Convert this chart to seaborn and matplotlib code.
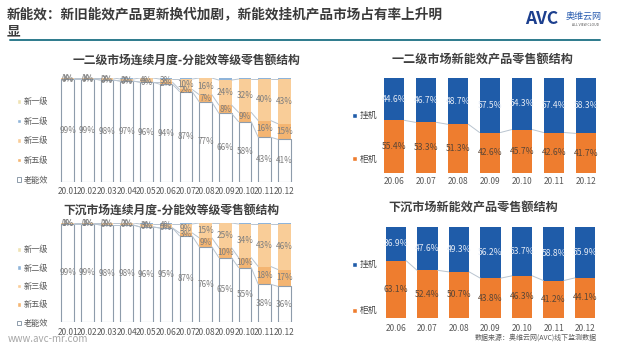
import numpy as np
import pandas as pd
import matplotlib.pyplot as plt
from matplotlib.patches import Patch
import seaborn as sns

# --- data ---
months_12 = ['20.01', '20.02', '20.03', '20.04', '20.05', '20.06',
             '20.07', '20.08', '20.09', '20.10', '20.11', '20.12']
months_7 = ['20.06', '20.07', '20.08', '20.09', '20.10', '20.11', '20.12']

# 一二级市场 (%)
old_t12 = [99, 99, 98, 97, 96, 94, 87, 77, 66, 58, 43, 41]
new5_t12 = [0, 0, 0, 0, 0, 2, 2, 7, 8, 9, 16, 15]
new3_t12 = [1, 1, 2, 2, 4, 3, 10, 16, 24, 32, 40, 43]
new2_t12 = [0, 0, 0, 1, 0, 1, 1, 0, 2, 1, 1, 1]
new1_t12 = [0, 0, 0, 0, 0, 0, 0, 0, 0, 0, 0, 0]

# 下沉市场 (%)
old_low = [99, 99, 98, 98, 96, 95, 87, 76, 65, 55, 38, 36]
new5_low = [0, 0, 0, 0, 0, 0, 3, 9, 10, 10, 18, 17]
new3_low = [1, 1, 2, 2, 3, 4, 9, 15, 25, 34, 43, 46]
new2_low = [0, 0, 0, 0, 1, 1, 1, 0, 0, 1, 1, 1]
new1_low = [0, 0, 0, 0, 0, 0, 0, 0, 0, 0, 0, 0]

# 新能效产品 挂机 / 柜机 (%)
wall_t12 = [44.6, 46.7, 48.7, 57.5, 54.3, 57.4, 58.3]
floor_t12 = [55.4, 53.3, 51.3, 42.6, 45.7, 42.6, 41.7]
wall_low = [36.9, 47.6, 49.3, 56.2, 53.7, 58.8, 55.9]
floor_low = [63.1, 52.4, 50.7, 43.8, 46.3, 41.2, 44.1]

grade_names = ['新一级', '新二级', '新三级', '新五级', '老能效']
type_names = ['挂机', '柜机']

# --- style ---
sns.set_style('white')
plt.rcParams['font.family'] = ['Noto Sans CJK SC', 'DejaVu Sans']

c_new1 = '#EFE3B4'
c_new2 = '#8FB4D9'
c_new3 = '#F9CD98'
c_new5 = '#F4B572'
c_edge = '#8E9CAB'
c_wall = '#1F5CA9'
c_floor = '#EE7D2F'
c_series = '#B9C4CF'
c_text = '#7F7F7F'

W, H = 628, 357
fig = plt.figure(figsize=(W / 100, H / 100), dpi=100)
fig.patch.set_facecolor('white')


def frame(x0, y0, x1, y1):
    return [x0 / W, 1 - y1 / H, (x1 - x0) / W, (y1 - y0) / H]


def ftext(x, y, s, **kw):
    fig.text(x / W, 1 - y / H, s, **kw)


def clean(ax, pad, size):
    sns.despine(ax=ax, left=True, bottom=True)
    ax.set_ylim(0, 100)
    ax.set_yticks([])
    ax.set_xlabel('')
    ax.set_ylabel('')
    ax.tick_params(axis='x', length=0, pad=pad, labelsize=size, labelcolor='#595959')


def grade_chart(ax, old, new5, new3, new2, new1):
    df = pd.DataFrame({'month': months_12, 'old': old, 'new5': new5,
                       'new3': new3, 'new2': new2, 'new1': new1})
    cum = df[['old', 'new5', 'new3', 'new2', 'new1']].cumsum(axis=1)
    bw = 0.64
    # stacked by overlaying cumulative totals, largest first
    for col, color in [('new1', c_new1), ('new2', c_new2), ('new3', c_new3), ('new5', c_new5)]:
        sns.barplot(x=df['month'], y=cum[col], color=color, width=bw, saturation=1,
                    linewidth=0, errorbar=None, ax=ax)
    sns.barplot(x=df['month'], y=cum['old'], color='white', width=bw, saturation=1,
                edgecolor=c_edge, linewidth=0.8, errorbar=None, ax=ax)
    # series lines between bars
    for col in ['old', 'new5', 'new3']:
        for i in range(len(df) - 1):
            ax.plot([i + bw / 2, i + 1 - bw / 2], [cum[col][i], cum[col][i + 1]],
                    color=c_series, lw=0.7, zorder=1)
    for i in range(len(df)):
        ax.text(i, df['old'][i] / 2, f"{df['old'][i]}%", ha='center', va='center',
                fontsize=5.9, color=c_text)
        ax.text(i, df['old'][i] + df['new5'][i] / 2, f"{df['new5'][i]}%", ha='center',
                va='center', fontsize=5.9, color=c_text)
        ax.text(i, cum['new5'][i] + df['new3'][i] / 2, f"{df['new3'][i]}%", ha='center',
                va='center', fontsize=5.9, color=c_text)


def type_chart(ax, wall, floor):
    df = pd.DataFrame({'month': months_7, 'wall': wall, 'floor': floor})
    total = df['floor'] + df['wall']
    bw = 0.65
    sns.barplot(x=df['month'], y=total, color=c_wall, width=bw, saturation=1,
                linewidth=0, errorbar=None, ax=ax)
    sns.barplot(x=df['month'], y=df['floor'], color=c_floor, width=bw, saturation=1,
                linewidth=0, errorbar=None, ax=ax)
    for i in range(len(df) - 1):
        ax.plot([i + bw / 2, i + 1 - bw / 2], [df['floor'][i], df['floor'][i + 1]],
                color=c_series, lw=0.7, zorder=1)
    for i in range(len(df)):
        ax.text(i, df['floor'][i] + df['wall'][i] / 2, f"{df['wall'][i]:.1f}%",
                ha='center', va='center', fontsize=6.2, color='#E3EAF5')
        ax.text(i, df['floor'][i] / 2, f"{df['floor'][i]:.1f}%",
                ha='center', va='center', fontsize=6.2, color='#5B4636')


# --- left: grade structure ---
ax_tl = fig.add_axes(frame(50, 78, 302, 182))
grade_chart(ax_tl, old_t12, new5_t12, new3_t12, new2_t12, new1_t12)
clean(ax_tl, 3.5, 6.0)

ax_bl = fig.add_axes(frame(50, 223, 302, 322))
grade_chart(ax_bl, old_low, new5_low, new3_low, new2_low, new1_low)
clean(ax_bl, 4, 6.0)

# --- right: wall vs floor ---
ax_tr = fig.add_axes(frame(373, 78, 607, 173))
type_chart(ax_tr, wall_t12, floor_t12)
clean(ax_tr, 3, 6.0)

ax_br = fig.add_axes(frame(375, 227, 606, 318))
type_chart(ax_br, wall_low, floor_low)
clean(ax_br, 4, 6.0)

# --- legends ---
grade_handles = [Patch(facecolor=c_new1), Patch(facecolor=c_new2), Patch(facecolor=c_new3),
                 Patch(facecolor=c_new5), Patch(facecolor='white', edgecolor=c_edge, linewidth=0.7)]
type_handles = [Patch(facecolor=c_wall), Patch(facecolor=c_floor)]
for (x, y, sp) in [(13, 93, 1.3), (13, 241, 1.15)]:
    fig.legend(grade_handles, grade_names, loc='upper left', bbox_to_anchor=(x / W, 1 - y / H),
               frameon=False, fontsize=5.9, labelcolor='#595959', borderpad=0,
               handlelength=0.5, handleheight=0.5, handletextpad=0.35, labelspacing=sp)
for (x, y, sp) in [(348, 107, 3.9), (348, 256, 4.2)]:
    fig.legend(type_handles, type_names, loc='upper left', bbox_to_anchor=(x / W, 1 - y / H),
               frameon=False, fontsize=6.3, labelcolor='#404040', borderpad=0,
               handlelength=0.5, handleheight=0.5, handletextpad=0.35, labelspacing=sp)

# --- titles and page furniture ---
ftext(7, 14, '新能效：新旧能效产品更新换代加剧，新能效挂机产品市场占有率上升明',
      fontsize=9.8, fontweight='bold', color='#3A3A3A', va='center')
ftext(7, 31, '显', fontsize=9.8, fontweight='bold', color='#3A3A3A', va='center')
fig.add_artist(plt.Line2D([10 / W, 600 / W], [1 - 40 / H, 1 - 40 / H],
                          color='#2D7A8C', lw=1.4))

ftext(525, 19, 'AVC', fontsize=12.5, fontweight='heavy', style='italic', color='#1C3F8E', va='center')
ftext(566, 16, '奥维云网', fontsize=6.5, color='#2A5DB0', va='center')
ftext(572, 25, 'ALL VIEW CLOUD', fontsize=2.5, color='#555555', va='center')

ftext(186, 60, '一二级市场连续月度-分能效等级零售额结构', fontsize=8.5, fontweight='bold',
      color='#404040', ha='center', va='center')
ftext(171, 210, '下沉市场连续月度-分能效等级零售额结构', fontsize=8.5, fontweight='bold',
      color='#404040', ha='center', va='center')
ftext(482, 60, '一二级市场新能效产品零售额结构', fontsize=8.7, fontweight='bold',
      color='#404040', ha='center', va='center')
ftext(473, 208, '下沉市场新能效产品零售额结构', fontsize=8.7, fontweight='bold',
      color='#404040', ha='center', va='center')

ftext(8, 339, 'www.avc-mr.com', fontsize=7, color='#A6A6A6', va='center')
ftext(475, 338, '数据来源：奥维云网(AVC)线下监测数据', fontsize=5, color='#595959', va='center')

fig.savefig('out.png', dpi=100, facecolor='white')
